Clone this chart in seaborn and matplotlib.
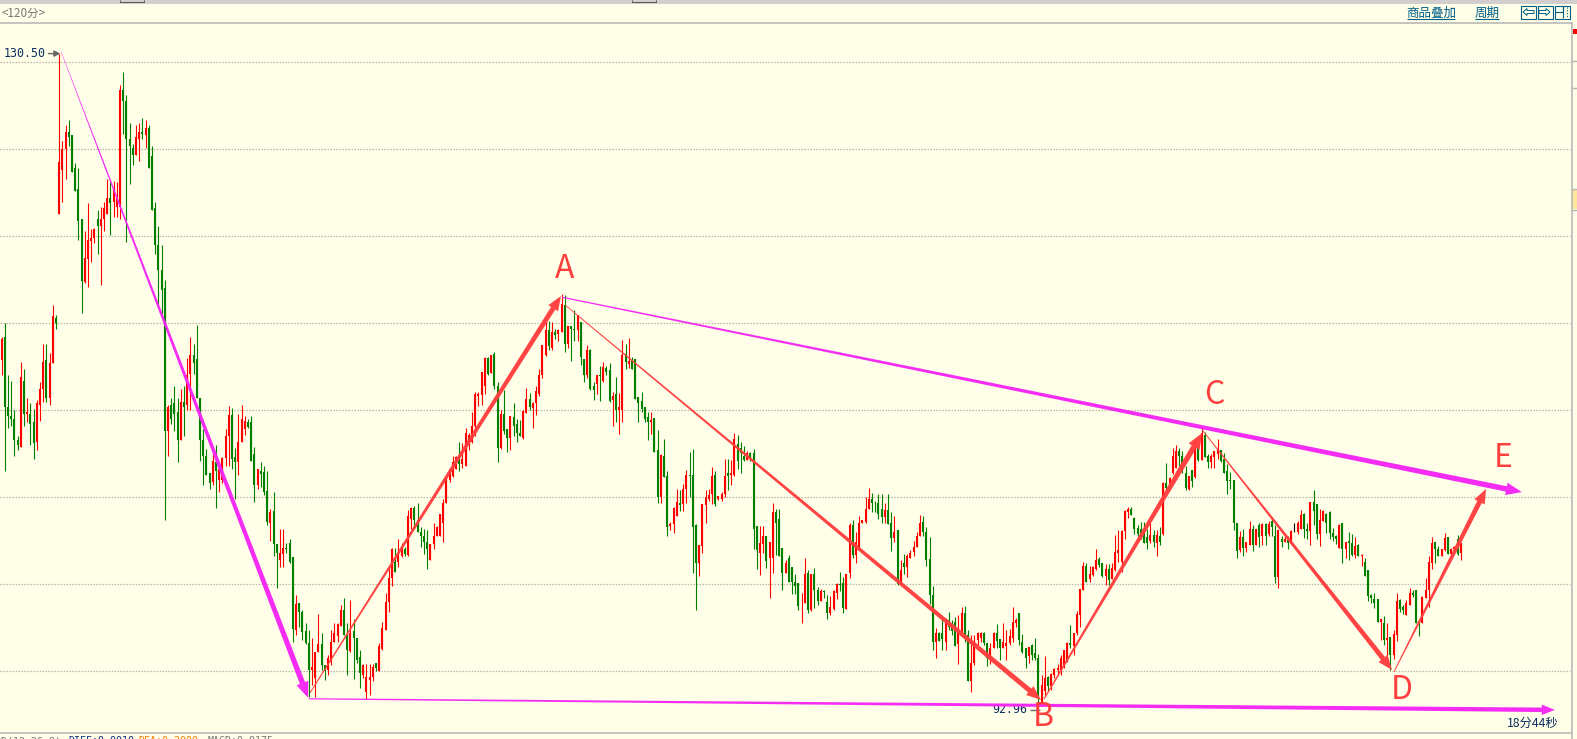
import numpy as np
import pandas as pd
import matplotlib
matplotlib.use("Agg")
import matplotlib.pyplot as plt
from matplotlib.patches import Rectangle, Polygon
from matplotlib.transforms import IdentityTransform
import seaborn as sns

opens = [
    112.9,114.2,110.2,109.7,109.5,108.3,107.9,111.7,109.8,109.8,109.3,108.2,110.3,111.2,112.9,110.7,112.7,115.3,121.3,123.8,
    125,126,125.8,123.9,122.7,121,117.4,118.7,119.75,119.9,121,120.6,121,121.3,122.2,122,121.7,121.7,128.4,127.8,
    125.6,125.1,124.7,125.6,126,125.8,126.2,124.6,121.6,119.5,118.05,117,108.8,110.3,110.4,109.9,108.3,110.5,110.3,112.1,
    113.2,112.95,110.7,108.3,107.35,106.4,105.9,107,106,106,107.25,108.5,109.75,107.3,107,108.2,108.9,109.3,109.3,107.5,
    105.7,106.5,106.45,105.35,
    103.55,104.2,102.3,101.4,101.75,102.1,102.35,101.55,97.4,98.9,98.4,97.3,96.6,95.1,94.6,96.1,96.55,95.35,95.05,95.55,
    96.7,97,97.6,98.5,97.1,96.15,97.3,96.9,95.85,94.8,93.8,94.5,94.65,95.5,95,96.3,97.35,99,100.35,101.3,
    101.3,101.6,102,101.7,103.75,104.4,103.7,103,102.75,102.45,101.4,102.3,102.8,102.75,103.55,104.65,
    106,106.2,106.6,107.3,106.9,106.8,108,108.2,109.1,110.85,110.9,111.4,113,112.15,113.25,111.4,107.85,109.8,108.9,108.4,
    109.6,109.2,108.7,108.4,109.85,110.65,110.15,110.4,110.95,112.05,113.2,114.6,113.6,114.5,114.4,114.5,116.05,113.8,114.85,114.7,
    114.6,115.1,112.95,112,113.45,111.4,111.5,112,111.7,112.45,112.3,110.6,110.95,110,110,113.25,112.65,112.9,112.95,110.75,
    110.55,110.2,109.6,109.3,109.55,107.7,105,
    107.4,106.2,103.35,103.45,103.95,104.7,104.6,105.45,106.3,106.3,103.4,101.2,102.2,104.55,104.9,105.2,106.3,104.9,104.9,105.2,
    106.4,106.3,106.3,108.05,107.85,107.4,107.15,107.55,107.55,103.35,101.8,102.3,102.8,101.5,101.5,104.15,103.75,102.1,100.65,101.5,
    101,100.15,100.05,98.9,98.9,100.65,98.5,100.6,99.7,99.05,99.6,99,98.35,98.6,99.5,100,100.05,98.6,100.65,103.4,
    101.7,102.15,103.5,103.6,104.3,104.9,104.7,104.7,104.3,103.85,104.25,103.5,102.65,103.1,100.15,101.25,101,101.5,101.85,102.15,
    102.8,103.6,103,101.45,99.4,
    96.7,97.2,97.2,96.7,97.95,97.7,97.85,96.55,97.3,98.35,97.1,94.45,95.5,96.8,96.9,97.2,96.6,95.75,96.35,97.2,
    96.85,96.35,96.45,96.6,96.9,97.75,98.35,96.7,96.35,95.9,96.5,96.05,95.75,93.05,93.85,94.7,94.15,94.8,95.1,95.1,
    95.3,95.65,96.6,96.45,97.2,98.25,99.7,101.05,100.3,100.55,100.9,101.45,101.2,100.5,100.9,100.3,100.8,101.8,101.3,103.05,
    104.15,104.35,103.8,103.25,103.2,102.9,102.7,102.5,102.85,102.35,102.8,102.9,
    105.8,105.75,106.4,106.7,107.65,107.4,106.4,105.5,106.55,106.15,107.95,107.15,108.6,107.4,107,107.3,107.5,107.7,107.2,106.5,
    106,106,103.55,101.95,102.7,102.1,102.25,103.2,102.25,103.4,102.75,103.45,102.9,103.65,102.8,100.4,102.6,102.45,102.55,102.35,
    103,103,103.2,104.05,
    103.15,103.05,104.75,104.6,102.9,103.65,104.05,104.15,102.95,102.8,102.1,103.5,102,102.5,102.4,101.7,102.25,101.65,101.3,100.8,
    99.4,99.15,99.15,97.85,97.75,96.8,96.95,95.95,97.1,99.1,98.7,98.25,98.8,99.5,99.65,97.9,97.75,99.2,99.65,101.25,
    102.45,102.05,101.65,101.95,102.7,101.75,102,102.6,101.8,
]
closes = [
    114.1,110.2,109.7,109.5,108.3,108,111.9,109.8,109.9,109.2,108.1,110.4,111.2,112.8,110.7,112.7,115.4,115,124.25,125,
    126,125.7,123.7,122.6,120.9,117.45,118.75,119.8,119.9,120.4,120.6,121,121.6,122.2,121.9,122.7,122.2,128.4,127.8,125.6,
    125.2,124.7,125.7,126,125.9,126.2,123.9,121.5,119.5,118.05,116.9,108.8,110.2,109.5,109.8,108.3,110.5,110.2,112,113.2,
    112.7,110.7,108.3,107.35,106.3,105.8,107.1,106.5,106.6,107.25,108.5,109.75,107.2,107,108.2,109.5,109.4,109.05,107.1,105.7,
    106.6,106.35,105.3,103.6,
    104.15,102.3,101.8,101.8,102.1,102,101.3,97.45,98.85,98.4,97.25,96.6,95.1,95.25,96.1,96.55,95.35,95.05,95.75,96.7,
    97.2,97.7,98.5,97.1,96.2,97.2,96.9,95.65,94.9,95.35,94.7,94.7,95.25,95.2,96.45,97.5,99,100.35,102,100.7,
    101.8,102.1,101.75,103.9,104.4,103.7,103,102.75,102.45,102.05,102.3,102.8,103.3,104.05,104.65,106.05,
    106.65,107.05,107.3,106.9,107.2,108.7,108.6,109.1,110.95,110.95,112.2,113,112.1,113.2,111.4,107.85,109.8,108.8,108.4,109.7,
    109.1,108.7,108.5,109.95,110.65,110.2,110.4,111.1,112.05,113.75,114.6,113.7,114.5,114.35,114.6,116.1,113.8,114.85,114.7,114.6,
    115.5,113.05,112,113.45,111.2,111.15,112.05,111.95,112.5,112.2,110.55,110.85,110,110.2,113.2,112.75,112.85,112.4,110.65,110.4,
    110.05,109.5,109.3,109.45,107.6,105,107.45,
    106.15,103.3,103.45,104.4,104.75,104.55,105.5,106.3,106.25,103.3,101.2,102.25,104.6,105,105.15,106.25,104.6,105.05,105.2,106.25,
    106.25,106.4,108.35,107.1,107.55,107.15,107.55,107.2,103.2,101.95,102.35,102.8,101.35,102.45,104.15,103.55,101.6,100.65,101.2,100.15,
    100.15,99.9,98.75,98.95,100.6,98.5,100.6,99.7,99.05,99.6,99.55,98.35,98.7,99.6,100,99.95,98.65,100.6,103.4,101.7,
    102.45,103.55,103.7,104.3,104.9,104.7,104.65,104.05,103.85,104.25,103.45,102.65,103,100,100.85,101,101.6,101.8,102.15,102.8,
    103.5,103,101.4,99.4,96.7,
    97.2,96.75,96.85,97.85,97.55,97.3,96.45,97.2,98.35,97.1,94.45,95.5,96.7,97.2,97.2,96.6,95.75,96.35,97.2,96.75,
    96.35,96.7,96.6,97,97.85,97.95,96.8,96.1,95.75,96.4,95.95,95.75,93.5,94.2,94.6,94.15,94.85,95.15,95.2,95.75,
    96.2,96.6,96.5,97.2,98.3,99.75,101.05,100.15,100.6,101,101.4,101.1,100.45,100.9,100.25,100.95,101.85,101.95,103.05,104.2,
    104.3,104,103.2,102.9,102.7,102.4,102.4,102.85,102.45,102.85,102.45,105.85,
    105.55,106.1,107.4,107.65,107.35,106.7,105.55,106.25,105.95,107.75,107.15,108.7,107.3,107,107.4,107.65,107.75,107.1,106.4,105.95,
    105.95,103.55,101.9,102.7,102.1,102.45,103.2,102.25,103.15,102.7,103.45,102.8,103.45,103.3,100.4,103.1,102.45,102.6,102.35,103.05,
    103,103.55,104,103.2,
    103.05,104.75,104.2,102.9,103.7,104.2,103.55,102.95,102.7,102.6,103.4,102,102.45,102.4,101.7,102.2,101.6,101.7,100.45,99.3,
    99.2,98.9,97.85,98,96.8,96.9,95.95,97.15,99.05,98.6,98.5,98.95,99.5,99.4,97.8,97.75,99.25,99.65,101.3,102.4,
    102.05,101.65,102,102.65,101.75,102.05,102.15,101.75,102.35,
]
highs = [
    114.2,115,112,111.7,110,108.5,112.8,112.4,110.7,110.4,110.1,110.6,111.6,113.8,113.8,113.3,116.05,115.5,130.5,125.5,
    126.4,126.7,125.8,124.2,123.9,121,120.3,121.9,120.4,120.5,121.5,121.7,122,123.3,123.2,123.2,123.1,128.7,129.45,128.1,
    126.5,125.3,126.4,126.5,126.8,126.7,126.4,125.2,122,120.6,119.5,117.5,110.3,110.7,111.4,110.7,111.2,111.4,113,114.2,
    113.8,114.9,110.7,108.9,107.8,106.4,107.6,108,106.6,107.3,108.9,110.25,110.15,107.85,109.8,110.3,109.65,109.5,109.65,107.9,
    106.65,107,106.8,106.5,
    104.3,105.3,102.3,103.2,103.2,102.35,102.6,101.55,99.4,98.9,98.5,97.75,97.4,96.9,96.1,98.3,97.2,95.35,95.95,97.4,
    97.8,97.8,98.8,99.2,97.8,99.1,98,96.9,96.2,95.4,95.4,95.4,95.4,95.5,96.65,97.85,99.5,101,102.1,102.1,
    102.6,102.35,102.15,104.25,104.45,104.5,104.65,103.3,103.2,103.1,102.3,103.55,103.35,104.05,104.9,106.2,
    106.7,107.4,107.4,108.15,108.1,109,108.7,109.9,111.05,111.05,112.2,113.05,113.05,113.2,113.35,111.6,110,111.15,108.9,109.7,
    110.4,109.5,109.45,110,111.3,111,110.45,111.4,112.4,113.75,115.15,115.15,115.05,114.7,114.65,116.7,116.6,114.85,114.85,115.75,
    115.5,115.1,112.95,113.75,113.5,111.6,112.05,112.55,112.8,112.55,112.7,111.05,111.9,111,114.05,113.8,114.15,113.05,112.95,110.75,
    111.05,110.2,109.9,109.9,109.55,108.85,107.5,
    108.35,106.5,103.6,104.45,105.5,105.4,105.75,106.55,107.6,107.8,103.45,102.25,104.6,105.4,105.45,106.75,106.5,105.05,105.3,107.2,
    107.2,107.15,108.7,108.6,108.15,107.95,107.65,107.6,107.75,103.35,103.35,103.35,102.8,102.45,104.65,104.35,104.35,102.1,101.4,101.7,
    101,100.6,100.05,99.5,101.5,100.8,100.6,100.95,99.85,99.75,99.65,99.4,99.3,99.65,100.05,100.7,100.4,100.6,103.55,103.7,
    103,103.9,103.7,105,105.55,105.25,104.8,105.2,105.2,104.7,105.2,104.15,103.9,103.1,101.4,101.75,101.75,101.95,102.5,103,
    104,103.95,103.3,102.7,99.9,
    97.5,97.25,98.2,98.05,98.4,97.95,98.1,98.25,98.7,98.75,97.4,97.1,97.1,97.25,97.25,97.25,96.6,96.6,97.25,97.7,
    96.85,97.8,97.4,97.45,98.7,98.05,98.35,97.15,96.35,96.4,96.55,96.9,96,94.8,95.9,94.75,94.9,95.2,95.4,95.95,
    96.25,96.7,97.65,97.2,98.45,99.75,101.3,101.2,101.05,101.05,102,101.55,101.2,101.15,101.15,101.2,102.85,103.1,103.1,104.25,
    104.45,104.45,103.85,103.4,103.6,103.6,103.2,103.5,103.1,103.1,103.3,105.9,
    106.95,106.15,107.85,108,107.85,107.65,106.8,106.25,106.55,108.25,107.95,109,108.75,107.5,107.5,107.65,108.35,107.7,107.55,106.9,
    106.45,106,103.55,103.05,103.15,102.45,103.65,103.4,103.15,103.55,103.55,103.55,103.65,103.85,103.4,103.1,102.8,102.8,102.8,103.1,
    103.5,103.65,104.25,104.1,
    103.5,104.75,105.4,104.6,104.35,104.25,104.1,104.2,103.25,102.85,103.45,103.5,102.45,103,102.9,102.7,102.3,101.75,101.5,100.8,
    99.45,99.5,99.15,98,98.15,97.75,96.95,97.4,99.5,99.15,98.8,99.1,99.8,99.65,99.7,97.95,99.3,100.35,101.65,102.7,
    102.45,102.2,102.05,102.95,102.7,102.1,102.2,102.85,102.35,
]
lows = [
    112,106.5,109,109.1,107.4,107.7,107.9,109.1,109.3,108,107.2,107.7,109.4,110.5,110.5,110.3,112.7,114.7,121.3,122,
    123.3,125.2,123.7,122.6,119.8,115.6,117.3,117.1,118.5,119.6,119,117.2,120.3,121.3,120.1,121.1,121.1,121,125.9,119.65,
    123,124.1,124.7,124.3,125.6,125.1,123.9,121.5,119,116,115.5,103.7,107.4,109.2,108.8,107,108.3,108.5,110,110,
    112.1,110.7,107.1,105.7,106.3,105.5,105.7,104.4,105.3,105.8,106.8,106.8,106.6,104.9,106.3,108.2,108.6,109,107.1,104.75,
    105.5,105.6,105.15,103.4,
    102.5,101.65,99.8,101,101,101.8,101.25,96.7,97.1,97.55,96.8,96.55,93.55,94.2,93.55,96.1,95.1,94.5,94.8,95.35,
    96.7,96.7,97.6,97.1,94.8,96.1,94.55,95.45,94.05,94.6,93.4,93.65,94.45,95,95,96.2,97.35,98.4,99.9,100.7,
    101,101.55,101.6,101.6,103.2,103.2,103,102.15,101.75,100.9,101.4,102,102.75,102.75,102.45,104.65,
    105.9,106.15,106.6,106.5,106.7,106.8,107.7,108.1,108.55,110.25,110.3,110.95,112.05,112.15,111.25,107.05,107.8,108.65,107.6,107.7,
    108.5,108.2,108.5,108.35,109.85,110,109,109.75,110.85,111.85,113.1,113.45,113.45,114.1,114,114.5,113.35,113.6,112.85,114,
    114,112.6,111.65,111.85,111.15,110.6,110.95,110.55,111.6,112,110.5,109.1,109.3,108.65,109.35,112.4,112.45,112.35,110.65,109.3,
    109.9,109.3,108.3,108.65,107.6,104.7,104.7,
    106.15,102.8,103.1,102.95,103.95,104.2,104.2,104.65,105,100.65,98.5,100.5,101.8,103.5,104.8,104.6,104.5,104.85,104.8,105,
    105.4,105.7,106.25,106.65,106.4,107.1,107.15,107.1,102,100.9,100.55,101.8,100.95,99.2,100.65,101.7,101.6,99.7,100.65,100.15,
    99.45,99.45,98.55,97.8,98.9,98.35,98.45,98.65,98.8,99.05,99.2,98,98.25,98.5,99.15,99.6,98.35,98.6,100.35,101.5,
    101.2,102.05,103.5,103.55,104.3,104.15,104.15,103.75,103.55,103.5,103.45,101.9,102.45,99.95,100.05,100.6,100.4,101.5,101.6,102.15,
    102.8,102.8,101.05,98.85,96.25,
    95.75,96.75,96.2,96.25,97.4,97.1,96.45,95.4,97.1,96.7,94.45,93.8,95.35,96.5,96.7,96.5,95.3,95.4,96.35,96.35,
    95.65,96.35,95.65,96.5,96.7,97.55,96.5,96.05,95.2,95.5,95.65,95.65,93.05,93.05,93.65,93.85,93.95,94.6,94.8,94.8,
    95.2,95.55,96.35,95.95,97.1,97.55,99.7,100.15,100.15,100.5,100.85,101,100.4,99.95,99.95,100.3,100.75,101.3,100.7,102.6,
    103.8,104,102.9,102.7,102.6,102.4,102,102.4,102.15,101.65,102.25,102.85,
    105.4,105.5,106.35,106.7,106.8,106.4,105.4,105.4,105.6,106.1,107.1,107.15,107.3,106.7,106.7,106.7,107.2,107.05,106.4,105.2,
    105.5,103.1,101.5,101.85,101.6,101.85,102.25,101.9,102.25,102.15,102.25,102.25,102.75,102.8,100.1,99.8,102.15,102.45,102.05,102.3,
    103,102.9,103.2,102.65,
    102.6,102.25,103.4,102.6,102.2,103.65,102.95,102.6,102.5,102.3,102.1,101.2,101.5,101.4,101.65,101.5,101.6,101.05,100.45,99.05,
    98.95,98.65,97.85,96.8,96.5,95.4,95.1,95.7,96.75,98.4,98.3,98.25,98.8,99.25,97.8,97.05,97.75,99.2,98.7,100.9,
    101.2,101.65,101.6,101.9,101.75,101.7,101.95,101.7,101.4,
]

grid_prices = [130, 125, 120, 115, 110, 105, 100, 95]

# trend lines: start candle, start price, end candle, end price
magenta_lines = [
    (18.6, 130.6, 95.8, 93.47, 0.4, 5.5),
    (96.0, 93.42, 485.4, 92.78, 1.2, 4.5),
    (175.1, 116.5, 475.1, 105.3, 1.2, 5.5),
]
red_lines = [
    (96.4, 93.77, 174.8, 116.57, 1.0, 5.0),
    (176.1, 116.05, 324.8, 93.36, 0.8, 5.0),
    (325.8, 93.42, 375.2, 108.7, 1.2, 5.5),
    (375.2, 108.87, 434.5, 95.08, 0.8, 5.0),
    (435.1, 94.96, 463.9, 105.48, 0.9, 5.0),
]
wave_labels = ["A", "B", "C", "D", "E"]
wave_x = [176.0, 325.4, 379.1, 437.6, 469.1]
wave_y = [118.1, 92.38, 110.9, 93.9, 107.26]

BG = "#FFFFE9"
MAGENTA = "#F526F5"
RED = "#FF3E3E"
UI_BLUE = "#005F87"
LINE_GRAY = "#B4B4B4"
PX_PER_CANDLE = 3.2
PX_PER_UNIT = 17.4
W, H = 1577, 739

sns.set_theme(style="white", rc={"lines.solid_capstyle": "butt", "axes.facecolor": BG, "figure.facecolor": BG})
plt.rcParams["font.family"] = ["Noto Sans CJK SC", "DejaVu Sans"]


def tapered_arrow(ax, line, color):
    x0, y0, x1, y1, w0, w1 = line
    p0, p1 = ax.transData.transform([(x0, y0), (x1, y1)])
    d = (p1 - p0) / np.hypot(*(p1 - p0))
    n = np.array([-d[1], d[0]])
    head = p1 - d * (w1 * 2.9)
    pts = [p0 + n * w0 / 2, head + n * w1 / 2, head + n * w1 * 1.15, p1,
           head - n * w1 * 1.15, head - n * w1 / 2, p0 - n * w0 / 2]
    ax.add_patch(Polygon(pts, closed=True, fc=color, ec="none", alpha=0.97,
                         transform=IdentityTransform(), zorder=5))


df = pd.DataFrame({"open": opens, "close": closes, "high": highs, "low": lows})
df["idx"] = df.index
df["color"] = np.where(df["close"] > df["open"], "up", np.where(df["close"] < df["open"], "down", "flat"))
palette = {"up": "#FF0000", "down": "#007F00", "flat": "#000000"}

fig = plt.figure(figsize=(W / 100, H / 100), dpi=100)
ax = fig.add_axes([0, 0, 1, 1])

wicks = df.melt(id_vars=["idx", "color"], value_vars=["high", "low"], value_name="price")
bodies = df.melt(id_vars=["idx", "color"], value_vars=["open", "close"], value_name="price")
sns.lineplot(data=wicks, x="idx", y="price", units="idx", hue="color", palette=palette,
             estimator=None, legend=False, lw=0.8, ax=ax)
sns.lineplot(data=bodies, x="idx", y="price", units="idx", hue="color", palette=palette,
             estimator=None, legend=False, lw=1.5, ax=ax)

x_left = -1.6 / PX_PER_CANDLE
ax.set_xlim(x_left, x_left + W / PX_PER_CANDLE)
ax.set_ylim(130 - (H - 62.3) / PX_PER_UNIT, 130 + 62.3 / PX_PER_UNIT)
ax.axis("off")

ax.hlines(grid_prices, x_left, x_left + 1570 / PX_PER_CANDLE, color="#B9B6A6", lw=0.9,
          linestyles=(0, (1.2, 1.2)), zorder=1)

for line in magenta_lines:
    tapered_arrow(ax, line, MAGENTA)
for line in red_lines:
    tapered_arrow(ax, line, RED)

for name, x, y in zip(wave_labels, wave_x, wave_y):
    ax.text(x, y, name, color=RED, fontsize=23, ha="center", va="center", zorder=6)

mono = "DejaVu Sans Mono"
ax.text(13.75, 130.5, "130.50", family=mono, fontsize=8.4, color="#0B2E5E", ha="right", va="center")
ax.annotate("", xy=(18.4, 130.5), xytext=(14.6, 130.5),
            arrowprops=dict(arrowstyle="-|>,head_length=0.3,head_width=0.15", color="#666666", lw=1,
                            shrinkA=0, shrinkB=0))
ax.text(320.5, 92.8, "92.96", family=mono, fontsize=8.4, color="#0B2E5E", ha="right", va="center", zorder=4)
ax.plot([321.5, 324.5], [92.8, 92.8], color="#666666", lw=1)

# window furniture, in pixels
ui = fig.add_axes([0, 0, 1, 1], zorder=10)
ui.set_xlim(0, W)
ui.set_ylim(H, 0)
ui.axis("off")
ui.patch.set_alpha(0)

ui.add_patch(Rectangle((0, 0), W, 3.5, fc="#D2CECE", ec="none"))
for x0, x1 in [(120, 144), (632, 656)]:
    ui.plot([x0, x0, x1, x1], [0, 1.5, 1.5, 0], color="#555555", lw=0.7)
ui.plot([0, 1572], [22.5, 22.5], color=LINE_GRAY, lw=1.1)
ui.plot([0, 1572], [732.5, 732.5], color=LINE_GRAY, lw=1.1)
ui.plot([1571.5, 1571.5], [22, H], color=LINE_GRAY, lw=1.1)
for y in [60.5, 87.5, 188.5, 209.5]:
    ui.plot([1571.5, W], [y, y], color=LINE_GRAY, lw=1)
ui.add_patch(Rectangle((1572, 189), 5, 20, fc="#FFE49B", ec="none"))
ui.add_patch(Rectangle((1573, 29), 4, 4.5, fc="#FF0000", ec="none"))

ui.text(1, 13, "<120分>", color="#777777", fontsize=8.4, ha="left", va="center")
ui.text(1431, 13, "商品叠加", color=UI_BLUE, fontsize=9, ha="center", va="center")
ui.plot([1407, 1455], [18.5, 18.5], color=UI_BLUE, lw=0.8)
ui.text(1487, 13, "周期", color=UI_BLUE, fontsize=9, ha="center", va="center")
ui.plot([1475, 1499], [18.5, 18.5], color=UI_BLUE, lw=0.8)
for x0 in [1520.5, 1537.5, 1554.5]:
    ui.add_patch(Rectangle((x0, 5.5), 15, 13, fc="none", ec=UI_BLUE, lw=0.8))
ui.add_patch(Polygon([(1523, 12), (1527, 8.5), (1527, 10.5), (1534, 10.5), (1534, 13.5), (1527, 13.5), (1527, 15.5)],
                     fc="none", ec=UI_BLUE, lw=0.7))
ui.add_patch(Polygon([(1550, 12), (1546, 8.5), (1546, 10.5), (1539, 10.5), (1539, 13.5), (1546, 13.5), (1546, 15.5)],
                     fc="none", ec=UI_BLUE, lw=0.7))
ui.plot([1555, 1563, 1563, 1563], [12, 12, 6, 18], color=UI_BLUE, lw=0.8)
ui.plot([1566.5, 1566.5], [7, 17], color=UI_BLUE, lw=0.8, linestyle=(0, (1, 1.5)))

ui.text(1533, 723, "18分44秒", color="#0B2E5E", fontsize=8.8, ha="center", va="center")

# status row sits half off the bottom edge, as in the screenshot
ui.text(62, 741, "MACD(12,26,9)", family=mono, fontsize=7.2, color="#777777", ha="right", va="center")
ui.text(68, 741, "DIFF:0.0010", family=mono, fontsize=7.2, color="#0B2E7E", ha="left", va="center")
ui.text(138, 741, "DEA:0.2000", family=mono, fontsize=7.2, color="#F08000", ha="left", va="center")
ui.text(208, 741, "MACD:0.8175", family=mono, fontsize=7.2, color="#777777", ha="left", va="center")

fig.savefig("out.png", dpi=100, facecolor=BG)
